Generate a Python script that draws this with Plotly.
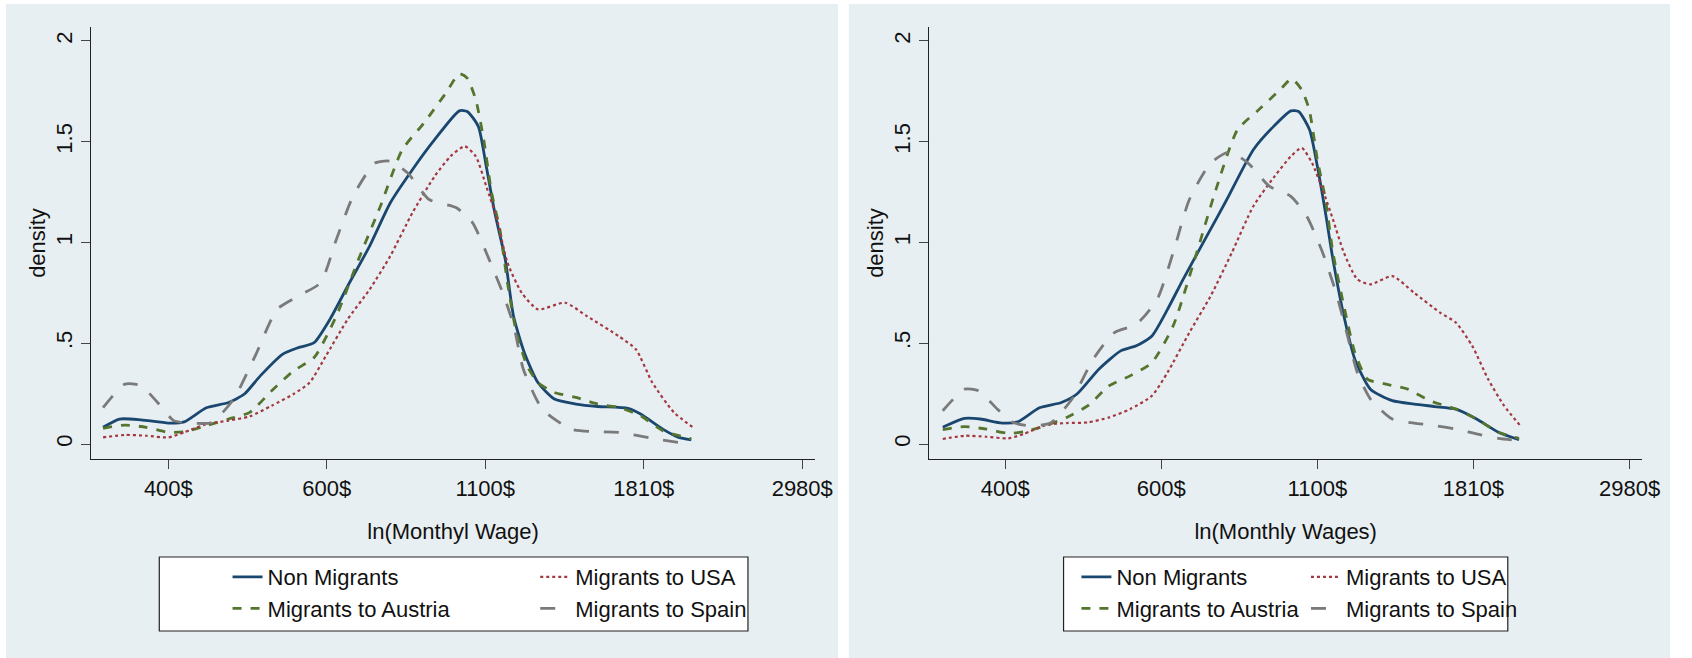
import plotly.graph_objects as go

W, H = 1692, 658

# ---------------- data (ln monthly wage vs kernel density) ----------------
# Left panel: ln(Monthyl Wage)
L_non_x = [5.794, 5.846, 5.914, 6.0, 6.05, 6.12, 6.19, 6.24, 6.29, 6.36, 6.41, 6.46, 6.51, 6.566, 6.635, 6.70, 6.77, 6.84, 6.918, 6.943, 6.978, 7.003, 7.03, 7.063, 7.089, 7.123, 7.166, 7.218, 7.286, 7.355, 7.45, 7.49, 7.56, 7.61, 7.65]
L_non_y = [0.083, 0.124, 0.12, 0.104, 0.11, 0.18, 0.206, 0.248, 0.338, 0.445, 0.478, 0.503, 0.619, 0.784, 0.982, 1.196, 1.361, 1.51, 1.653, 1.65, 1.576, 1.378, 1.147, 0.916, 0.635, 0.454, 0.305, 0.223, 0.198, 0.186, 0.177, 0.149, 0.074, 0.033, 0.021]

L_aut_x = [5.794, 5.863, 5.93, 6.0, 6.05, 6.12, 6.19, 6.257, 6.326, 6.395, 6.46, 6.53, 6.60, 6.669, 6.738, 6.806, 6.875, 6.918, 6.943, 6.97, 6.995, 7.02, 7.046, 7.07, 7.098, 7.132, 7.166, 7.218, 7.286, 7.355, 7.42, 7.49, 7.56, 7.63, 7.65]
L_aut_y = [0.078, 0.094, 0.083, 0.058, 0.061, 0.091, 0.124, 0.157, 0.264, 0.363, 0.429, 0.635, 0.916, 1.18, 1.46, 1.592, 1.74, 1.837, 1.815, 1.708, 1.51, 1.246, 1.064, 0.80, 0.553, 0.388, 0.305, 0.256, 0.231, 0.198, 0.182, 0.14, 0.066, 0.033, 0.025]

L_usa_x = [5.794, 5.863, 5.93, 6.0, 6.05, 6.12, 6.19, 6.257, 6.326, 6.395, 6.446, 6.497, 6.566, 6.635, 6.70, 6.77, 6.84, 6.89, 6.935, 6.97, 7.003, 7.037, 7.07, 7.115, 7.166, 7.252, 7.32, 7.42, 7.475, 7.527, 7.595, 7.655]
L_usa_y = [0.033, 0.045, 0.041, 0.033, 0.058, 0.099, 0.116, 0.137, 0.19, 0.248, 0.305, 0.437, 0.619, 0.767, 0.932, 1.147, 1.328, 1.427, 1.477, 1.427, 1.279, 1.114, 0.899, 0.75, 0.668, 0.701, 0.635, 0.536, 0.47, 0.305, 0.157, 0.083]

L_spa_x = [5.794, 5.863, 5.914, 5.966, 6.017, 6.069, 6.137, 6.206, 6.274, 6.343, 6.41, 6.48, 6.53, 6.583, 6.652, 6.70, 6.755, 6.823, 6.909, 6.96, 7.012, 7.055, 7.09, 7.12, 7.18, 7.27, 7.34, 7.42, 7.527, 7.61]
L_spa_y = [0.18, 0.297, 0.289, 0.206, 0.116, 0.104, 0.107, 0.223, 0.437, 0.668, 0.734, 0.80, 1.015, 1.23, 1.394, 1.403, 1.345, 1.213, 1.172, 1.097, 0.916, 0.75, 0.586, 0.371, 0.173, 0.074, 0.061, 0.058, 0.028, 0.008]

# Right panel: ln(Monthly Wages)
R_non_x = [5.80, 5.87, 5.92, 5.99, 6.04, 6.11, 6.18, 6.23, 6.30, 6.37, 6.42, 6.47, 6.52, 6.57, 6.64, 6.71, 6.795, 6.86, 6.915, 6.94, 6.975, 7.0, 7.026, 7.05, 7.085, 7.12, 7.17, 7.24, 7.31, 7.376, 7.444, 7.51, 7.58, 7.646]
R_non_y = [0.083, 0.127, 0.124, 0.104, 0.11, 0.18, 0.206, 0.248, 0.371, 0.462, 0.487, 0.536, 0.668, 0.817, 1.015, 1.213, 1.46, 1.576, 1.653, 1.65, 1.559, 1.378, 1.147, 0.916, 0.635, 0.421, 0.272, 0.215, 0.198, 0.186, 0.173, 0.124, 0.058, 0.021]

R_aut_x = [5.80, 5.87, 5.94, 6.01, 6.06, 6.13, 6.197, 6.265, 6.333, 6.40, 6.47, 6.538, 6.607, 6.675, 6.744, 6.812, 6.88, 6.918, 6.95, 6.974, 7.0, 7.026, 7.05, 7.085, 7.12, 7.16, 7.22, 7.29, 7.36, 7.444, 7.51, 7.58, 7.646]
R_aut_y = [0.071, 0.086, 0.074, 0.053, 0.061, 0.091, 0.132, 0.19, 0.289, 0.338, 0.404, 0.586, 0.916, 1.262, 1.559, 1.658, 1.757, 1.812, 1.757, 1.658, 1.411, 1.213, 0.949, 0.685, 0.454, 0.322, 0.297, 0.272, 0.215, 0.173, 0.124, 0.058, 0.028]

R_usa_x = [5.80, 5.87, 5.94, 6.01, 6.06, 6.13, 6.197, 6.265, 6.333, 6.40, 6.47, 6.52, 6.59, 6.658, 6.726, 6.795, 6.863, 6.915, 6.95, 6.983, 7.017, 7.05, 7.085, 7.128, 7.17, 7.24, 7.31, 7.393, 7.444, 7.496, 7.547, 7.598, 7.65]
R_usa_y = [0.025, 0.041, 0.036, 0.028, 0.05, 0.094, 0.104, 0.107, 0.132, 0.173, 0.239, 0.355, 0.553, 0.734, 0.949, 1.18, 1.328, 1.427, 1.469, 1.394, 1.262, 1.114, 0.949, 0.817, 0.792, 0.833, 0.75, 0.652, 0.602, 0.487, 0.322, 0.19, 0.091]

R_spa_x = [5.80, 5.87, 5.915, 5.975, 6.026, 6.077, 6.145, 6.214, 6.282, 6.35, 6.42, 6.487, 6.538, 6.59, 6.658, 6.718, 6.778, 6.846, 6.915, 6.966, 7.017, 7.06, 7.094, 7.128, 7.17, 7.24, 7.31, 7.376, 7.444, 7.51, 7.58, 7.646]
R_spa_y = [0.165, 0.272, 0.264, 0.173, 0.107, 0.091, 0.104, 0.223, 0.421, 0.553, 0.594, 0.718, 0.949, 1.213, 1.394, 1.449, 1.394, 1.279, 1.229, 1.13, 0.949, 0.75, 0.553, 0.355, 0.223, 0.124, 0.104, 0.091, 0.074, 0.05, 0.028, 0.017]

series_names = ["Non Migrants", "Migrants to USA", "Migrants to Austria", "Migrants to Spain"]
x_tickvals = [6, 6.5, 7, 7.5, 8]
x_ticktext = ["400$", "600$", "1100$", "1810$", "2980$"]
y_tickvals = [0, 0.5, 1, 1.5, 2]
y_ticktext = ["0", ".5", "1", "1.5", "2"]
x_titles = ["ln(Monthyl Wage)", "ln(Monthly Wages)"]

# ---------------- styles ----------------
FONT = "Liberation Sans, Arial, Helvetica, sans-serif"
BG = "#e8eff2"
GRID = "#e6eef1"
FS = 22
styles = {
    "Non Migrants": dict(color="#1a476f", dash="solid", width=2.8),
    "Migrants to USA": dict(color="#a3383f", dash="dot", width=2.2),
    "Migrants to Austria": dict(color="#55752f", dash="dash", width=2.8),
    "Migrants to Spain": dict(color="#7a7a7a", dash="longdash", width=2.8),
}

panels = [
    dict(data={"Non Migrants": (L_non_x, L_non_y), "Migrants to USA": (L_usa_x, L_usa_y),
               "Migrants to Austria": (L_aut_x, L_aut_y), "Migrants to Spain": (L_spa_x, L_spa_y)},
         xa="x", ya="y", legs=("legend", "legend2")),
    dict(data={"Non Migrants": (R_non_x, R_non_y), "Migrants to USA": (R_usa_x, R_usa_y),
               "Migrants to Austria": (R_aut_x, R_aut_y), "Migrants to Spain": (R_spa_x, R_spa_y)},
         xa="x2", ya="y2", legs=("legend3", "legend4")),
]

fig = go.Figure()
col_of = {"Non Migrants": 0, "Migrants to Austria": 0, "Migrants to USA": 1, "Migrants to Spain": 1}
for p in panels:
    for name in ["Non Migrants", "Migrants to Austria", "Migrants to USA", "Migrants to Spain"]:
        xs, ys = p["data"][name]
        st = styles[name]
        fig.add_trace(go.Scatter(
            x=xs, y=ys, mode="lines", name=name, xaxis=p["xa"], yaxis=p["ya"],
            line=dict(color=st["color"], dash=st["dash"], width=st["width"], shape="spline", smoothing=0.6),
            legend=p["legs"][col_of[name]], showlegend=True,
        ))

def px(x):
    return x / W

def py(y):
    return (H - y) / H

ydom = [py(459), py(27)]
axis_common = dict(showline=True, linecolor="#222", linewidth=1.3, ticks="outside", ticklen=9,
                   tickcolor="#444", tickwidth=1.3, mirror=False, zeroline=False,
                   tickfont=dict(family=FONT, size=FS, color="#111"))

xa = dict(axis_common, range=[5.756, 8.041], tickvals=x_tickvals, ticktext=x_ticktext, showgrid=False,
          title=dict(font=dict(family=FONT, size=FS, color="#111"), standoff=24))
ya = dict(axis_common, range=[-0.0744, 2.069], tickvals=y_tickvals, ticktext=y_ticktext, tickangle=-90,
          showgrid=True, gridcolor=GRID, gridwidth=2,
          title=dict(text="density", font=dict(family=FONT, size=FS, color="#111"), standoff=0))

leg_common = dict(bgcolor="rgba(0,0,0,0)", borderwidth=0, font=dict(family=FONT, size=FS, color="#111"),
                  orientation="v", xanchor="left", yanchor="top", itemwidth=30, tracegroupgap=0)

fig.update_layout(
    width=W, height=H, margin=dict(l=0, r=0, t=0, b=0),
    paper_bgcolor="white", plot_bgcolor="white",
    xaxis=dict(xa, domain=[px(92), px(824)], anchor="y", title=dict(xa["title"], text=x_titles[0])),
    yaxis=dict(ya, domain=ydom, anchor="x"),
    xaxis2=dict(xa, domain=[px(939), px(1660)], anchor="y2", title=dict(xa["title"], text=x_titles[1])),
    yaxis2=dict(ya, domain=ydom, anchor="x2"),
    legend=dict(leg_common, x=px(230), y=py(556)),
    legend2=dict(leg_common, x=px(541), y=py(556)),
    legend3=dict(leg_common, x=px(1088), y=py(556)),
    legend4=dict(leg_common, x=px(1320), y=py(556)),
    shapes=[
        dict(type="rect", xref="paper", yref="paper", x0=px(6), x1=px(847), y0=0, y1=py(4),
             fillcolor=BG, line=dict(width=0), layer="below"),
        dict(type="rect", xref="paper", yref="paper", x0=px(858), x1=px(1688), y0=0, y1=py(4),
             fillcolor=BG, line=dict(width=0), layer="below"),
        dict(type="rect", xref="paper", yref="paper", x0=px(161), x1=px(756), y0=py(631), y1=py(557),
             fillcolor="white", line=dict(width=1.2, color="#222"), layer="below"),
        dict(type="rect", xref="paper", yref="paper", x0=px(1075), x1=px(1524), y0=py(631), y1=py(557),
             fillcolor="white", line=dict(width=1.2, color="#222"), layer="below"),
    ],
)

fig.write_html("out.html")
